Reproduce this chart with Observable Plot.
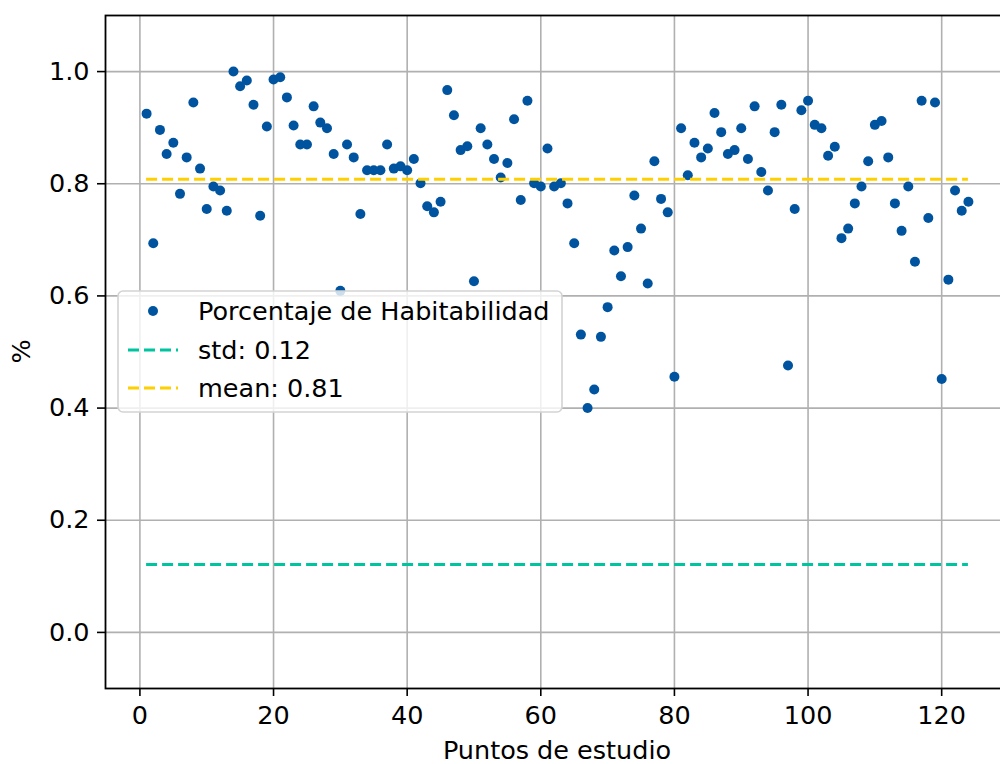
<!DOCTYPE html>
<html>
<head>
<meta charset="utf-8">
<script src="https://cdn.jsdelivr.net/npm/d3@7"></script>
<script src="https://cdn.jsdelivr.net/npm/@observablehq/plot@0.6"></script>
<style>
  html, body { margin: 0; padding: 0; background: #fff; overflow: hidden; width: 1000px; height: 764px; }
  #chart { width: 1010px; }
  #chart svg { display: block; max-width: none !important; }
</style>
</head>
<body>
<div id="chart"></div>
<script>
// ---- Data ----
const studyPoints = d3.range(1, 125);
const habitability = [
  0.925, 0.694, 0.896, 0.853, 0.873, 0.782, 0.847, 0.945, 0.827, 0.755,
  0.795, 0.788, 0.752, 1.000, 0.974, 0.984, 0.941, 0.743, 0.902, 0.986,
  0.990, 0.954, 0.904, 0.870, 0.870, 0.938, 0.909, 0.899, 0.853, 0.609,
  0.870, 0.847, 0.746, 0.824, 0.824, 0.824, 0.870, 0.827, 0.831, 0.824,
  0.844, 0.801, 0.760, 0.749, 0.768, 0.967, 0.922, 0.860, 0.867, 0.626,
  0.899, 0.870, 0.844, 0.811, 0.837, 0.915, 0.771, 0.948, 0.801, 0.795,
  0.863, 0.795, 0.801, 0.765, 0.694, 0.531, 0.400, 0.433, 0.527, 0.580,
  0.681, 0.635, 0.687, 0.779, 0.720, 0.622, 0.840, 0.773, 0.749, 0.456,
  0.899, 0.815, 0.873, 0.847, 0.863, 0.926, 0.892, 0.853, 0.860, 0.899,
  0.844, 0.938, 0.821, 0.788, 0.892, 0.941, 0.476, 0.755, 0.931, 0.948,
  0.905, 0.899, 0.850, 0.866, 0.703, 0.720, 0.765, 0.795, 0.840, 0.905,
  0.912, 0.847, 0.765, 0.716, 0.795, 0.661, 0.948, 0.739, 0.945, 0.452,
  0.629, 0.788, 0.752, 0.768
];
const meanValue = 0.808;
const stdValue = 0.121;
const xTicks = [0, 20, 40, 60, 80, 100, 120];
const yTicks = [0.0, 0.2, 0.4, 0.6, 0.8, 1.0];
const seriesLabel = "Porcentaje de Habitabilidad";
const xLabel = "Puntos de estudio";
const yLabel = "%";

// ---- Table ----
const table = studyPoints.map((p, i) => ({point: p, value: habitability[i]}));
const xFirst = d3.min(studyPoints), xLast = d3.max(studyPoints);

const BLUE = "#00549f", TEAL = "#00c4a0", GOLD = "#ffd000";
const FONT = "'DejaVu Sans', sans-serif";
const FS = 25.5;

const chart = Plot.plot({
  width: 1010,
  height: 764,
  marginLeft: 105,
  marginTop: 15,
  marginBottom: 76,
  marginRight: 1,
  style: {fontFamily: FONT, fontSize: FS + "px", color: "#000", background: "transparent", maxWidth: "none"},
  x: {domain: [-5.15, 130.15]},
  y: {domain: [-0.1, 1.1]},
  marks: [
    Plot.gridX(xTicks, {stroke: "#b0b0b0", strokeOpacity: 1, strokeWidth: 1.6}),
    Plot.gridY(yTicks, {stroke: "#b0b0b0", strokeOpacity: 1, strokeWidth: 1.6}),
    Plot.dot(table, {x: "point", y: "value", r: 5, fill: BLUE, stroke: "none"}),
    Plot.ruleY([stdValue], {x1: () => xFirst, x2: () => xLast, stroke: TEAL, strokeWidth: 3, strokeDasharray: "11,5"}),
    Plot.ruleY([meanValue], {x1: () => xFirst, x2: () => xLast, stroke: GOLD, strokeWidth: 3, strokeDasharray: "11,5"}),
    Plot.frame({stroke: "#000", strokeWidth: 1.8}),
    Plot.axisX(xTicks, {tickSize: 8, tickPadding: 9, label: null, fontSize: FS, strokeWidth: 1.6, tickFormat: d3.format("d")}),
    Plot.axisY(yTicks, {tickSize: 8, tickPadding: 8, label: null, fontSize: FS, strokeWidth: 1.6, tickFormat: d3.format(".1f")})
  ]
});
chart.style.maxWidth = "none";

const svg = d3.select(chart);
const plotLeft = 105, plotRight = 1009, plotTop = 15, plotBottom = 688;

// Axis labels
svg.append("text")
  .attr("x", (plotLeft + plotRight) / 2)
  .attr("y", 759)
  .attr("text-anchor", "middle")
  .attr("font-family", FONT)
  .attr("font-size", FS)
  .attr("fill", "#000")
  .text(xLabel);
svg.append("text")
  .attr("transform", `translate(30, ${(plotTop + plotBottom) / 2}) rotate(-90)`)
  .attr("text-anchor", "middle")
  .attr("font-family", FONT)
  .attr("font-size", FS)
  .attr("fill", "#000")
  .text(yLabel);

// Legend
const lg = svg.append("g")
  .attr("font-family", FONT).attr("font-size", FS).attr("fill", "#000").attr("text-anchor", "start");
lg.append("rect")
  .attr("x", 118).attr("y", 291).attr("width", 444).attr("height", 121).attr("rx", 5)
  .attr("fill", "white").attr("fill-opacity", 0.8)
  .attr("stroke", "#d3d3d3").attr("stroke-width", 1.6);
const entries = [
  {type: "dot", color: BLUE, label: seriesLabel, y: 311},
  {type: "line", color: TEAL, label: "std: " + d3.format(".2f")(stdValue), y: 350},
  {type: "line", color: GOLD, label: "mean: " + d3.format(".2f")(meanValue), y: 388}
];
for (const e of entries) {
  if (e.type === "dot") {
    lg.append("circle").attr("cx", 153).attr("cy", e.y).attr("r", 5).attr("fill", e.color).attr("stroke", "none");
  } else {
    lg.append("line").attr("x1", 128).attr("x2", 178).attr("y1", e.y).attr("y2", e.y)
      .attr("stroke", e.color).attr("stroke-width", 3).attr("stroke-dasharray", "11,5");
  }
  lg.append("text").attr("x", 198).attr("y", e.y).attr("dy", "0.36em").attr("text-anchor", "start").text(e.label);
}

document.getElementById("chart").appendChild(chart);
</script>
</body>
</html>
